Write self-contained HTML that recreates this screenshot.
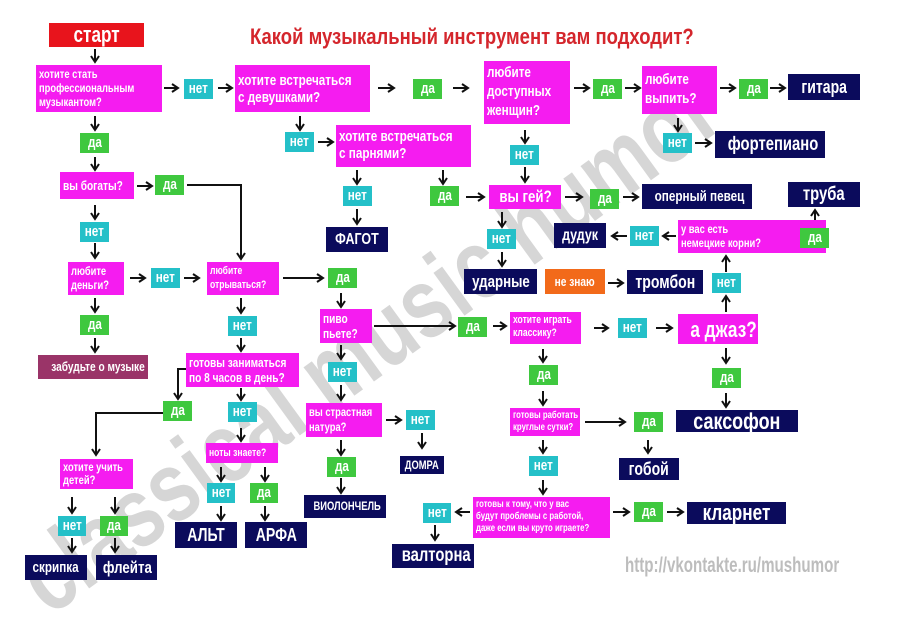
<!DOCTYPE html>
<html><head><meta charset="utf-8"><style>
body{margin:0;background:#fff;width:900px;height:607px;overflow:hidden;position:relative;font-family:"Liberation Sans",sans-serif}
.b{position:absolute;color:#fff;font-weight:bold;box-sizing:border-box;white-space:nowrap;overflow:hidden}
.b>span{display:inline-block;transform:scaleX(.78);transform-origin:center}
.m{background:#f51cf0;padding:2px 3px;font-size:12px;line-height:14px}
.m>span{transform-origin:left top}
.g,.c{font-size:15px;text-align:center;line-height:20px;height:20px;width:29px}
.g{background:#3fc83f}.c{background:#24c0c8}
.n{background:#0b0b5c;text-align:center;font-size:15px}
svg{position:absolute;left:0;top:0}
</style></head><body>
<div style="position:absolute;left:30px;top:590px;transform:translate(0,-50%) rotate(-36deg) scaleX(.78);transform-origin:left center;font:bold 100px 'Liberation Sans',sans-serif;color:#d6d6d6;white-space:nowrap">classical music humor</div>
<svg width="900" height="607"><defs><marker id="a" markerWidth="10" markerHeight="10" refX="8" refY="5" orient="auto" markerUnits="userSpaceOnUse"><path d="M2,1 L8,5 L2,9" fill="none" stroke="#111" stroke-width="2"/></marker></defs>
<g stroke="#111" stroke-width="2" fill="none" marker-end="url(#a)">
<line x1="95" y1="49" x2="95" y2="62"/>
<line x1="164" y1="88" x2="178" y2="88"/><line x1="218" y1="88" x2="232" y2="88"/>
<line x1="378" y1="88" x2="394" y2="88"/><line x1="453" y1="88" x2="468" y2="88"/>
<line x1="574" y1="88" x2="589" y2="88"/><line x1="625" y1="88" x2="640" y2="88"/>
<line x1="720" y1="88" x2="735" y2="88"/><line x1="770" y1="88" x2="785" y2="88"/>
<line x1="678" y1="118" x2="678" y2="131"/><line x1="695" y1="143" x2="711" y2="143"/>
<line x1="525" y1="130" x2="525" y2="143"/><line x1="525" y1="167" x2="525" y2="182"/>
<line x1="300" y1="116" x2="300" y2="130"/><line x1="318" y1="142" x2="333" y2="142"/>
<line x1="357" y1="170" x2="357" y2="184"/><line x1="357" y1="209" x2="357" y2="224"/>
<line x1="443" y1="170" x2="443" y2="184"/><line x1="466" y1="197" x2="484" y2="197"/>
<line x1="565" y1="197" x2="582" y2="197"/><line x1="623" y1="197" x2="638" y2="197"/>
<line x1="502" y1="212" x2="502" y2="227"/><line x1="502" y1="252" x2="502" y2="266"/>
<line x1="608" y1="283" x2="623" y2="283"/>
<line x1="726" y1="312" x2="726" y2="296"/>
<line x1="726" y1="272" x2="726" y2="256"/>
<line x1="676" y1="236" x2="663" y2="236"/><line x1="627" y1="236" x2="612" y2="236"/>
<line x1="782" y1="238" x2="796" y2="238"/><line x1="815" y1="226" x2="815" y2="210"/>
<line x1="95" y1="116" x2="95" y2="130"/><line x1="95" y1="157" x2="95" y2="170"/>
<line x1="137" y1="186" x2="152" y2="186"/>
<polyline points="187,185 241,185 241,259"/>
<line x1="95" y1="205" x2="95" y2="219"/><line x1="95" y1="243" x2="95" y2="258"/>
<line x1="130" y1="278" x2="145" y2="278"/><line x1="184" y1="278" x2="199" y2="278"/>
<line x1="283" y1="278" x2="323" y2="278"/>
<line x1="341" y1="293" x2="341" y2="307"/>
<line x1="95" y1="298" x2="95" y2="312"/><line x1="95" y1="338" x2="95" y2="352"/>
<line x1="241" y1="298" x2="241" y2="313"/><line x1="241" y1="338" x2="241" y2="351"/>
<polyline points="186,369 178,369 178,399"/>
<polyline points="163,413 96,413 96,455"/>
<line x1="241" y1="388" x2="241" y2="400"/><line x1="241" y1="428" x2="241" y2="441"/>
<line x1="221" y1="467" x2="221" y2="481"/><line x1="265" y1="467" x2="265" y2="481"/>
<line x1="221" y1="506" x2="221" y2="520"/><line x1="265" y1="506" x2="265" y2="520"/>
<line x1="72" y1="497" x2="72" y2="513"/><line x1="115" y1="497" x2="115" y2="513"/>
<line x1="72" y1="538" x2="72" y2="552"/><line x1="115" y1="538" x2="115" y2="552"/>
<line x1="374" y1="326" x2="455" y2="326"/>
<line x1="493" y1="326" x2="506" y2="326"/><line x1="594" y1="328" x2="608" y2="328"/>
<line x1="656" y1="328" x2="672" y2="328"/>
<line x1="341" y1="345" x2="341" y2="359"/><line x1="341" y1="385" x2="341" y2="400"/>
<line x1="386" y1="420" x2="401" y2="420"/><line x1="422" y1="433" x2="422" y2="448"/>
<line x1="341" y1="440" x2="341" y2="455"/><line x1="341" y1="478" x2="341" y2="493"/>
<line x1="543" y1="349" x2="543" y2="362"/><line x1="543" y1="391" x2="543" y2="405"/>
<line x1="585" y1="422" x2="625" y2="422"/><line x1="648" y1="440" x2="648" y2="453"/>
<line x1="726" y1="348" x2="726" y2="363"/><line x1="726" y1="393" x2="726" y2="407"/>
<line x1="543" y1="440" x2="543" y2="453"/><line x1="543" y1="480" x2="543" y2="494"/>
<line x1="470" y1="512" x2="456" y2="512"/><line x1="435" y1="525" x2="435" y2="540"/>
<line x1="613" y1="512" x2="629" y2="512"/><line x1="667" y1="512" x2="683" y2="512"/>
</g></svg>
<div class="b" style="left:49px;top:23px;width:95px;height:24px;background:#e8141c;font-size:22px;line-height:24px;text-align:center"><span>старт</span></div>
<div class="b" style="left:250px;top:24px;color:#d4262c;font-size:22px;line-height:26px"><span style="transform-origin:left;transform:scaleX(.84)">Какой музыкальный инструмент вам подходит?</span></div>
<div class="b m" style="left:36px;top:65px;width:126px;height:47px"><span>хотите стать<br>профессиональным<br>музыкантом?</span></div>
<div class="b c" style="left:184px;top:79px"><span>нет</span></div>
<div class="b m" style="left:235px;top:65px;width:135px;height:47px;font-size:15px;line-height:17px;padding-top:7px"><span>хотите встречаться<br>с девушками?</span></div>
<div class="b g" style="left:413px;top:79px"><span>да</span></div>
<div class="b m" style="left:484px;top:61px;width:86px;height:63px;font-size:15px;line-height:19px"><span>любите<br>доступных<br>женщин?</span></div>
<div class="b g" style="left:593px;top:79px"><span>да</span></div>
<div class="b m" style="left:642px;top:66px;width:75px;height:48px;font-size:15px;line-height:19px;padding-top:4px"><span>любите<br>выпить?</span></div>
<div class="b g" style="left:739px;top:79px"><span>да</span></div>
<div class="b n" style="left:788px;top:74px;width:72px;height:26px;font-size:18px;line-height:26px"><span>гитара</span></div>
<div class="b c" style="left:663px;top:133px"><span>нет</span></div>
<div class="b n" style="left:715px;top:131px;width:110px;height:27px;font-size:19px;line-height:27px"><span>фортепиано</span></div>
<div class="b c" style="left:510px;top:145px"><span>нет</span></div>
<div class="b m" style="left:489px;top:185px;width:72px;height:24px;font-size:17px;line-height:20px;text-align:center"><span style="transform-origin:center">вы гей?</span></div>
<div class="b c" style="left:285px;top:132px"><span>нет</span></div>
<div class="b m" style="left:336px;top:125px;width:135px;height:42px;font-size:15px;line-height:17px;padding-top:3px"><span>хотите встречаться<br>с парнями?</span></div>
<div class="b c" style="left:343px;top:186px"><span>нет</span></div>
<div class="b n" style="left:326px;top:227px;width:62px;height:25px;font-size:16px;line-height:25px"><span>ФАГОТ</span></div>
<div class="b g" style="left:430px;top:186px"><span>да</span></div>
<div class="b g" style="left:590px;top:189px"><span>да</span></div>
<div class="b n" style="left:642px;top:184px;width:110px;height:25px;font-size:15px;line-height:25px"><span>оперный певец</span></div>
<div class="b c" style="left:487px;top:229px"><span>нет</span></div>
<div class="b n" style="left:464px;top:269px;width:73px;height:25px;font-size:17px;line-height:25px"><span>ударные</span></div>
<div class="b" style="left:545px;top:269px;width:60px;height:25px;background:#f26a1a;font-size:13px;line-height:25px;text-align:center"><span>не знаю</span></div>
<div class="b n" style="left:627px;top:270px;width:76px;height:24px;font-size:18px;line-height:24px"><span>тромбон</span></div>
<div class="b c" style="left:712px;top:273px"><span>нет</span></div>
<div class="b m" style="left:678px;top:220px;width:148px;height:33px;font-size:12px;line-height:14px"><span>у вас есть<br>немецкие корни?</span></div>
<div class="b c" style="left:630px;top:226px"><span>нет</span></div>
<div class="b n" style="left:554px;top:223px;width:52px;height:25px;font-size:16px;line-height:25px"><span>дудук</span></div>
<div class="b g" style="left:800px;top:228px"><span>да</span></div>
<div class="b n" style="left:788px;top:182px;width:72px;height:25px;font-size:19px;line-height:25px"><span>труба</span></div>
<div class="b g" style="left:80px;top:133px"><span>да</span></div>
<div class="b m" style="left:60px;top:172px;width:74px;height:27px;font-size:13px;line-height:23px"><span>вы богаты?</span></div>
<div class="b g" style="left:155px;top:175px"><span>да</span></div>
<div class="b c" style="left:80px;top:222px"><span>нет</span></div>
<div class="b m" style="left:68px;top:262px;width:56px;height:33px;font-size:12px;line-height:14px"><span>любите<br>деньги?</span></div>
<div class="b c" style="left:151px;top:268px"><span>нет</span></div>
<div class="b m" style="left:207px;top:262px;width:72px;height:33px;font-size:11px;line-height:14px"><span>любите<br>отрываться?</span></div>
<div class="b g" style="left:328px;top:268px"><span>да</span></div>
<div class="b g" style="left:80px;top:315px"><span>да</span></div>
<div class="b" style="left:38px;top:355px;width:110px;height:24px;background:#9a3468;font-size:13px;line-height:24px;text-align:center"><span>забудьте о музыке</span></div>
<div class="b c" style="left:228px;top:316px"><span>нет</span></div>
<div class="b m" style="left:186px;top:353px;width:113px;height:34px;font-size:13px;line-height:15px"><span>готовы заниматься<br>по 8 часов в день?</span></div>
<div class="b g" style="left:163px;top:401px"><span>да</span></div>
<div class="b m" style="left:60px;top:459px;width:73px;height:30px;font-size:12px;line-height:13px"><span>хотите учить<br>детей?</span></div>
<div class="b c" style="left:58px;top:516px;width:28px"><span>нет</span></div>
<div class="b g" style="left:100px;top:516px;width:28px"><span>да</span></div>
<div class="b n" style="left:25px;top:555px;width:62px;height:25px;font-size:15px;line-height:25px"><span>скрипка</span></div>
<div class="b n" style="left:96px;top:555px;width:61px;height:25px;font-size:17px;line-height:25px"><span>флейта</span></div>
<div class="b c" style="left:228px;top:402px"><span>нет</span></div>
<div class="b m" style="left:206px;top:443px;width:72px;height:20px;font-size:11px;line-height:16px"><span>ноты знаете?</span></div>
<div class="b c" style="left:207px;top:483px;width:28px"><span>нет</span></div>
<div class="b g" style="left:250px;top:483px;width:28px"><span>да</span></div>
<div class="b n" style="left:175px;top:522px;width:62px;height:26px;font-size:18px;line-height:26px"><span>АЛЬТ</span></div>
<div class="b n" style="left:245px;top:522px;width:62px;height:26px;font-size:18px;line-height:26px"><span>АРФА</span></div>
<div class="b m" style="left:320px;top:309px;width:52px;height:34px;font-size:13px;line-height:15px"><span>пиво<br>пьете?</span></div>
<div class="b g" style="left:458px;top:317px"><span>да</span></div>
<div class="b m" style="left:510px;top:312px;width:71px;height:32px;font-size:11px;line-height:13px"><span>хотите играть<br>классику?</span></div>
<div class="b c" style="left:618px;top:318px"><span>нет</span></div>
<div class="b m" style="left:678px;top:314px;width:80px;height:30px;font-size:22px;line-height:28px;text-align:center"><span style="transform-origin:center">а джаз?</span></div>
<div class="b c" style="left:328px;top:362px"><span>нет</span></div>
<div class="b m" style="left:306px;top:403px;width:76px;height:34px;font-size:12px;line-height:15px"><span>вы страстная<br>натура?</span></div>
<div class="b c" style="left:406px;top:410px"><span>нет</span></div>
<div class="b n" style="left:400px;top:456px;width:44px;height:18px;font-size:12px;line-height:18px"><span>ДОМРА</span></div>
<div class="b g" style="left:327px;top:457px"><span>да</span></div>
<div class="b n" style="left:304px;top:495px;width:82px;height:23px;font-size:12px;line-height:23px"><span>ВИОЛОНЧЕЛЬ</span></div>
<div class="b g" style="left:529px;top:365px"><span>да</span></div>
<div class="b m" style="left:510px;top:408px;width:70px;height:28px;font-size:10px;line-height:12px"><span>готовы работать<br>круглые сутки?</span></div>
<div class="b g" style="left:634px;top:412px"><span>да</span></div>
<div class="b n" style="left:619px;top:458px;width:60px;height:22px;font-size:18px;line-height:22px"><span>гобой</span></div>
<div class="b g" style="left:712px;top:368px"><span>да</span></div>
<div class="b n" style="left:676px;top:410px;width:122px;height:22px;font-size:23px;line-height:22px"><span>саксофон</span></div>
<div class="b c" style="left:529px;top:456px"><span>нет</span></div>
<div class="b m" style="left:473px;top:497px;width:137px;height:41px;font-size:10px;line-height:12px"><span>готовы к тому, что у вас<br>будут проблемы с работой,<br>даже если вы круто играете?</span></div>
<div class="b c" style="left:423px;top:503px;width:28px"><span>нет</span></div>
<div class="b n" style="left:392px;top:544px;width:82px;height:24px;font-size:19px;line-height:24px"><span>валторна</span></div>
<div class="b g" style="left:634px;top:502px"><span>да</span></div>
<div class="b n" style="left:687px;top:502px;width:99px;height:22px;font-size:22px;line-height:22px"><span>кларнет</span></div>
<div class="b" style="left:625px;top:555px;color:#bdbdbd;font-size:21px;line-height:22px"><span style="transform-origin:left;transform:scaleX(.72)">http://vkontakte.ru/mushumor</span></div>
</body></html>
